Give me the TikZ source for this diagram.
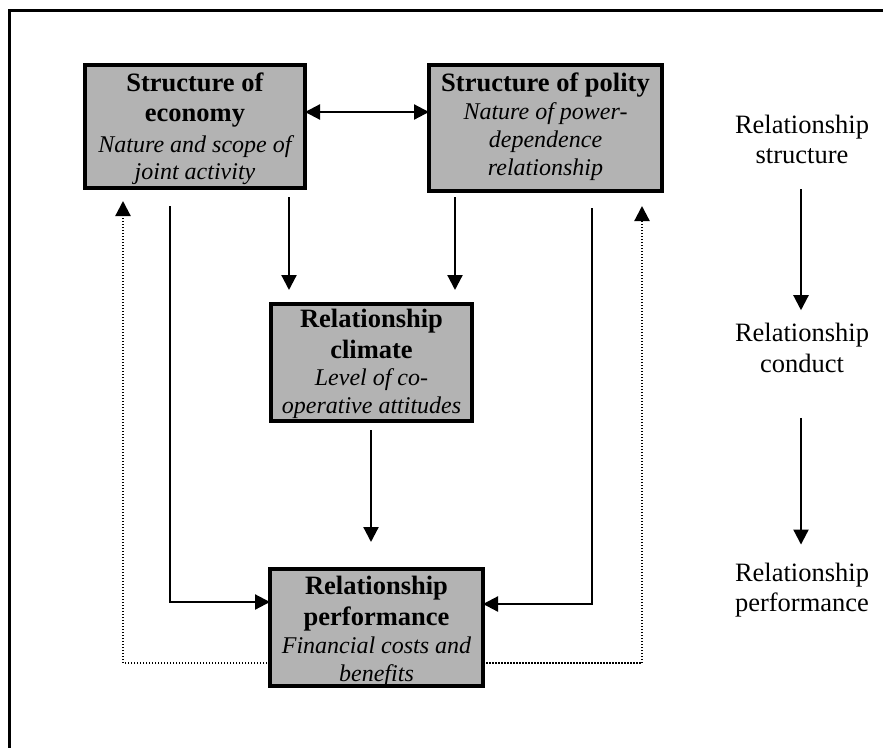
\documentclass[tikz,border=0pt]{standalone}
\usepackage{fontspec}
\setmainfont{Liberation Serif}
\usetikzlibrary{arrows.meta}
\definecolor{boxgray}{RGB}{179,179,179}
\newcommand\itl[1]{{\fontsize{24}{28}\selectfont\itshape #1}}
\begin{document}
\begin{tikzpicture}[x=1pt,y=-1pt,
  txt/.style={font=\fontsize{26.5}{30.5}\selectfont,align=center,inner sep=0pt},
  box/.style={draw=black,line width=4pt,fill=boxgray,outer sep=0pt,inner sep=0pt},
  tip/.style={-{Triangle[length=15pt,width=15pt]}},
  arr/.style={line width=2.2pt,tip},
  arrtwo/.style={line width=2.2pt,{Triangle[length=15pt,width=15pt]}-{Triangle[length=15pt,width=15pt]}},
  dotarr/.style={line width=2.2pt,dash pattern=on 1.5pt off 1.5pt,tip}]
\useasboundingbox (0,0) rectangle (883,747);
\draw[line width=3pt] (9,760) -- (9,10) -- (890,10);

\node[box,minimum width=220pt,minimum height=123pt] (econ) at (195,126.5) {};
\node[txt] (econT) at ([yshift=-2.5pt]econ.center)
  {\textbf{Structure of}\\\textbf{economy}\\\itl{Nature and scope of}\\[-3pt]\itl{joint activity}};
\node[box,minimum width=233pt,minimum height=126pt] (polity) at (545.5,128) {};
\node[txt] (polityT) at ([yshift=1.5pt]polity.center)
  {\textbf{Structure of polity}\\[-2.5pt]\itl{Nature of power-}\\[-2.5pt]\itl{dependence}\\[-3pt]\itl{relationship}};
\node[box,minimum width=201pt,minimum height=117pt] (clim) at (371.5,362.5) {};
\node[txt] (climT) at ([yshift=-1.5pt]clim.center)
  {\textbf{Relationship}\\\textbf{climate}\\[-3pt]\itl{Level of co-}\\[-3pt]\itl{operative attitudes}};
\node[box,minimum width=213pt,minimum height=117pt] (perf) at (376.5,627.5) {};
\node[txt] (perfT) at ([yshift=-4pt]perf.center)
  {\textbf{Relationship}\\\textbf{performance}\\[-2pt]\itl{Financial costs and}\\[-3pt]\itl{benefits}};

\node[txt] (rs) at (802,139.5) {Relationship\\structure};
\node[txt] (rc) at (802,348) {Relationship\\conduct};
\node[txt] (rp) at (802,590) {Relationship\\performance};

% double arrow
\coordinate (dl) at ([yshift=14.5pt]econ.east);
\draw[arrtwo] (dl) -- (dl -| polity.west);

% structure -> climate
\draw[arr] ([xshift=18pt,yshift=-9pt]clim.north west |- econ.south) -- ([xshift=18pt,yshift=14pt]clim.north west);
\draw[arr] ([xshift=-17pt,yshift=-6pt]clim.north east |- polity.south) -- ([xshift=-17pt,yshift=14pt]clim.north east);
% climate -> performance
\draw[arr] ([xshift=-0.5pt,yshift=-9pt]clim.south) -- ([xshift=-5.5pt,yshift=27pt]perf.north);

% structure -> performance
\draw[arr] ([xshift=-25pt,yshift=-18pt]econ.south) |- ([yshift=25.5pt]perf.west);
\draw[arr] ([xshift=46.5pt,yshift=-17pt]polity.south) |- ([yshift=23.5pt]perf.east);

% feedback
\draw[dotarr] ([yshift=-35.5pt]perf.west) -| ([xshift=-72pt,yshift=-13pt]econ.south);
\draw[dotarr] ([yshift=-35.5pt]perf.east) -| ([xshift=96.5pt,yshift=-15pt]polity.south);

% right column
\draw[arr] ([xshift=-1pt,yshift=-25pt]rs.south) -- ([xshift=-1pt,yshift=13pt]rc.north);
\draw[arr] ([xshift=-1pt,yshift=-45pt]rc.south) -- ([xshift=-1pt,yshift=18pt]rp.north);
\end{tikzpicture}
\end{document}
